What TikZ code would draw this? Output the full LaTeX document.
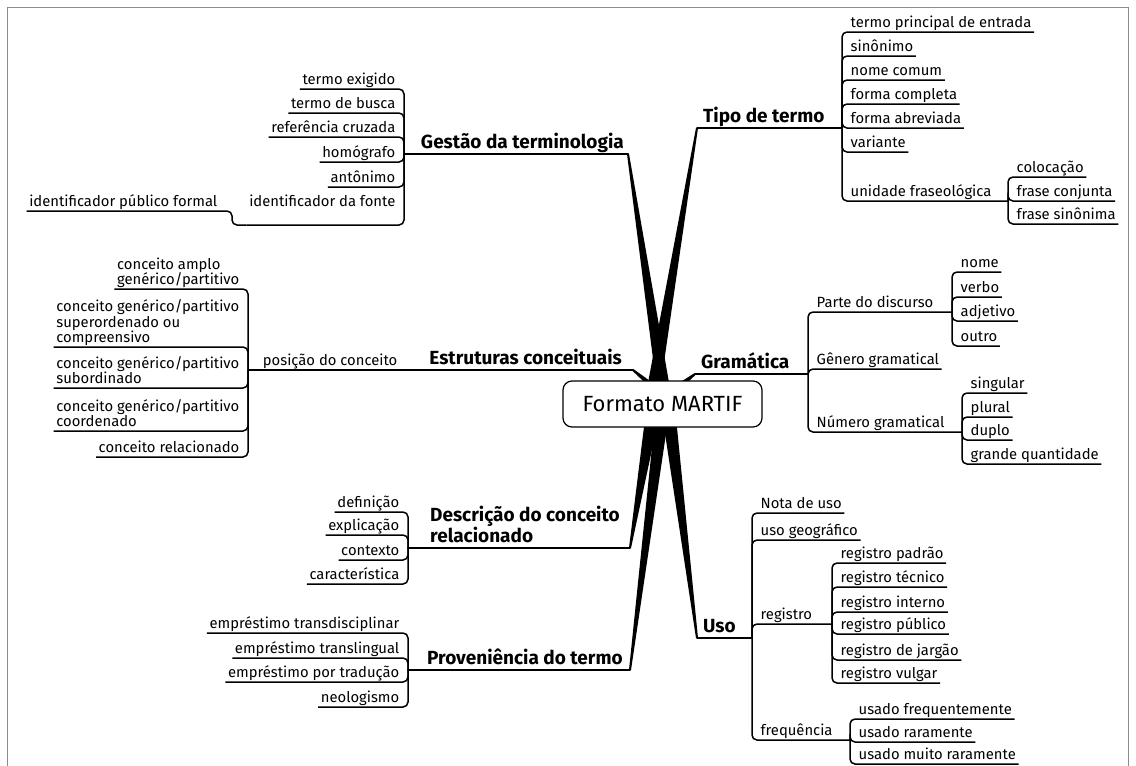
\documentclass[tikz,border=0pt]{standalone}
\usepackage{fontspec}
\setmainfont{Fira Sans}
\usetikzlibrary{calc}
% tapered branch: thin end #1, thick end #2, half widths #3 and #4
\newcommand{\taper}[4]{%
  \fill ($#1!#3!90:#2$) -- ($#2!#4!-90:#1$) -- ($#2!#4!90:#1$) -- ($#1!#3!-90:#2$) -- cycle;}
\begin{document}
\begin{tikzpicture}[x=1pt,y=-1pt,
  leaf/.style={inner xsep=2.5pt, inner ysep=1pt, text depth=3pt,
    font=\fontsize{14.8}{15.5}\selectfont, align=left},
  rleaf/.style={leaf, anchor=south west},
  lleaf/.style={leaf, anchor=south east},
  topic/.style={inner xsep=2pt, inner ysep=1pt, text depth=4pt,
    font=\bfseries\fontsize{19}{21}\selectfont, align=left},
  conn/.style={line width=1.5pt, rounded corners=5pt},
  mainline/.style={line width=2pt, line cap=round},
  frame/.style={black!45, line width=0.7pt},
]
\useasboundingbox (0,0) rectangle (1136,766);
\draw[frame] (7,766) -- (7,7) -- (1128,7) -- (1128,766);

% ---------- main branch anchor points ----------
\coordinate (gest-in) at (628,154);  \coordinate (gest-c) at (663,386);
\coordinate (tipo-in) at (697,128);  \coordinate (tipo-c) at (654,386);
\coordinate (est-in)  at (633,370);  \coordinate (est-c)  at (650,384);
\coordinate (gram-in) at (695,374);  \coordinate (gram-c) at (682,384);
\coordinate (desc-in) at (630,548);  \coordinate (desc-c) at (651,423);
\coordinate (prov-in) at (630,670);  \coordinate (prov-c) at (661,423);
\coordinate (uso-in)  at (697,638);  \coordinate (uso-c)  at (670,423);

\taper{(gest-in)}{(gest-c)}{1pt}{6.5pt}
\taper{(tipo-in)}{(tipo-c)}{1pt}{6.5pt}
\taper{(est-in)}{(est-c)}{1pt}{2.5pt}
\taper{(gram-in)}{(gram-c)}{1pt}{2.5pt}
\taper{(desc-in)}{(desc-c)}{1pt}{6.5pt}
\taper{(prov-in)}{(prov-c)}{1pt}{6.5pt}
\taper{(uso-in)}{(uso-c)}{1pt}{6.5pt}

\node[draw, fill=white, line width=1.2pt, rounded corners=9pt,
  minimum width=199pt, minimum height=46pt,
  font=\fontsize{22}{26}\selectfont] (root) at (662.5,404) {Formato MARTIF};

% ---------- Gestão da terminologia ----------
\coordinate (gest-b) at (404,154);
\node[topic, anchor=south east] (gest) at (626,154) {Gestão da terminologia};
\draw[mainline] (gest-in) -- (gest-b);
\node[lleaf] (g1) at (398,89)  {termo exigido};
\node[lleaf] (g2) at (398,113) {termo de busca};
\node[lleaf] (g3) at (398,137) {referência cruzada};
\node[lleaf] (g4) at (398,162) {homógrafo};
\node[lleaf] (g5) at (398,187) {antônimo};
\node[lleaf, text depth=17pt] (idf) at (398,225) {identificador da fonte};
\foreach \n in {g1,g2,g3,g4,g5,idf} \draw[conn] (gest-b) |- (\n.south west);
\coordinate (idf-b) at (232,225);
\node[lleaf] (ipf) at (220,211) {identificador público formal};
\draw[conn] (idf.south west) -- (idf-b) |- (ipf.south west);

% ---------- Tipo de termo ----------
\coordinate (tipo-b) at (842,128);
\node[topic, anchor=south west] (tipo) at (701,128) {Tipo de termo};
\draw[mainline] (tipo-in) -- (tipo-b);
\node[rleaf] (t1) at (848,32)  {termo principal de entrada};
\node[rleaf] (t2) at (848,56)  {sinônimo};
\node[rleaf] (t3) at (848,80)  {nome comum};
\node[rleaf] (t4) at (848,104) {forma completa};
\node[rleaf] (t5) at (848,128) {forma abreviada};
\node[rleaf] (t6) at (848,152) {variante};
\node[rleaf] (uf) at (848,201) {unidade fraseológica};
\foreach \n in {t1,t2,t3,t4,t5,t6} \draw[conn] (tipo-b) |- (\n.south east);
\coordinate (uf-b) at (1008,201);
\draw[conn] (tipo-b) |- (uf-b);
\node[rleaf] (u1) at (1014,177) {colocação};
\node[rleaf] (u2) at (1014,201) {frase conjunta};
\node[rleaf] (u3) at (1014,224) {frase sinônima};
\foreach \n in {u1,u2,u3} \draw[conn] (uf-b) |- (\n.south east);

% ---------- Estruturas conceituais ----------
\node[topic, anchor=south east] (est) at (624,370) {Estruturas conceituais};
\node[lleaf] (pos) at (400,370) {posição do conceito};
\coordinate (pos-b) at (248,370);
\draw[mainline] (est-in) -- (pos.south east);
\draw[conn] (pos.south east) -- (pos-b);
\node[lleaf] (c1) at (242,289) {conceito amplo\\genérico/partitivo};
\node[lleaf] (c2) at (242,347) {conceito genérico/partitivo\\superordenado ou\\compreensivo};
\node[lleaf] (c3) at (242,388) {conceito genérico/partitivo\\subordinado};
\node[lleaf] (c4) at (242,431) {conceito genérico/partitivo\\coordenado};
\node[lleaf] (c5) at (242,457) {conceito relacionado};
\foreach \n in {c1,c2,c3,c4,c5} \draw[conn] (pos-b) |- (\n.south west);

% ---------- Gramática ----------
\coordinate (gram-b) at (808,374);
\node[topic, anchor=south west] (gram) at (699,374) {Gramática};
\draw[mainline] (gram-in) -- (gram-b);
\node[rleaf] (pd) at (814,312) {Parte do discurso};
\coordinate (pd-b) at (952,312);
\draw[conn] (gram-b) |- (pd-b);
\node[rleaf] (p1) at (958,272) {nome};
\node[rleaf] (p2) at (958,297) {verbo};
\node[rleaf] (p3) at (958,321) {adjetivo};
\node[rleaf] (p4) at (958,346) {outro};
\foreach \n in {p1,p2,p3,p4} \draw[conn] (pd-b) |- (\n.south east);
\node[rleaf] (gg) at (814,369) {Gênero gramatical};
\draw[conn] (gram-b) |- (gg.south east);
\node[rleaf] (ng) at (814,432) {Número gramatical};
\coordinate (ng-b) at (962,432);
\draw[conn] (gram-b) |- (ng-b);
\node[rleaf] (n1) at (968,393) {singular};
\node[rleaf] (n2) at (968,417) {plural};
\node[rleaf] (n3) at (968,440) {duplo};
\node[rleaf] (n4) at (968,464) {grande quantidade};
\foreach \n in {n1,n2,n3,n4} \draw[conn] (ng-b) |- (\n.south east);

% ---------- Descrição do conceito relacionado ----------
\coordinate (desc-b) at (408,548);
\node[topic, anchor=south west] (desc) at (428,548) {Descrição do conceito\\relacionado};
\draw[mainline] (desc-in) -- (desc-b);
\node[lleaf] (d1) at (402,512) {definição};
\node[lleaf] (d2) at (402,535) {explicação};
\node[lleaf] (d3) at (402,560) {contexto};
\node[lleaf] (d4) at (402,584) {característica};
\foreach \n in {d1,d2,d3,d4} \draw[conn] (desc-b) |- (\n.south west);

% ---------- Proveniência do termo ----------
\coordinate (prov-b) at (408,670);
\node[topic, anchor=south west] (prov) at (425,670) {Proveniência do termo};
\draw[mainline] (prov-in) -- (prov-b);
\node[lleaf] (e1) at (402,633) {empréstimo transdisciplinar};
\node[lleaf] (e2) at (402,658) {empréstimo translingual};
\node[lleaf] (e3) at (402,682) {empréstimo por tradução};
\node[lleaf] (e4) at (402,707) {neologismo};
\foreach \n in {e1,e2,e3,e4} \draw[conn] (prov-b) |- (\n.south west);

% ---------- Uso ----------
\coordinate (uso-b) at (752,638);
\node[topic, anchor=south west] (uso) at (701,638) {Uso};
\draw[mainline] (uso-in) -- (uso-b);
\node[rleaf] (nu) at (758,513) {Nota de uso};
\node[rleaf] (ug) at (758,540) {uso geográfico};
\foreach \n in {nu,ug} \draw[conn] (uso-b) |- (\n.south east);
\node[rleaf] (rg) at (758,624) {registro};
\coordinate (rg-b) at (832,624);
\draw[conn] (uso-b) |- (rg-b);
\node[rleaf] (r1) at (838,563) {registro padrão};
\node[rleaf] (r2) at (838,587) {registro técnico};
\node[rleaf] (r3) at (838,612) {registro interno};
\node[rleaf] (r4) at (838,634) {registro público};
\node[rleaf] (r5) at (838,660) {registro de jargão};
\node[rleaf] (r6) at (838,683) {registro vulgar};
\foreach \n in {r1,r2,r3,r4,r5,r6} \draw[conn] (rg-b) |- (\n.south east);
\node[rleaf] (fq) at (758,740) {frequência};
\coordinate (fq-b) at (850,740);
\draw[conn] (uso-b) |- (fq-b);
\node[rleaf] (f1) at (856,719) {usado frequentemente};
\node[rleaf] (f2) at (856,742) {usado raramente};
\node[rleaf] (f3) at (856,764) {usado muito raramente};
\foreach \n in {f1,f2,f3} \draw[conn] (fq-b) |- (\n.south east);
\end{tikzpicture}
\end{document}
